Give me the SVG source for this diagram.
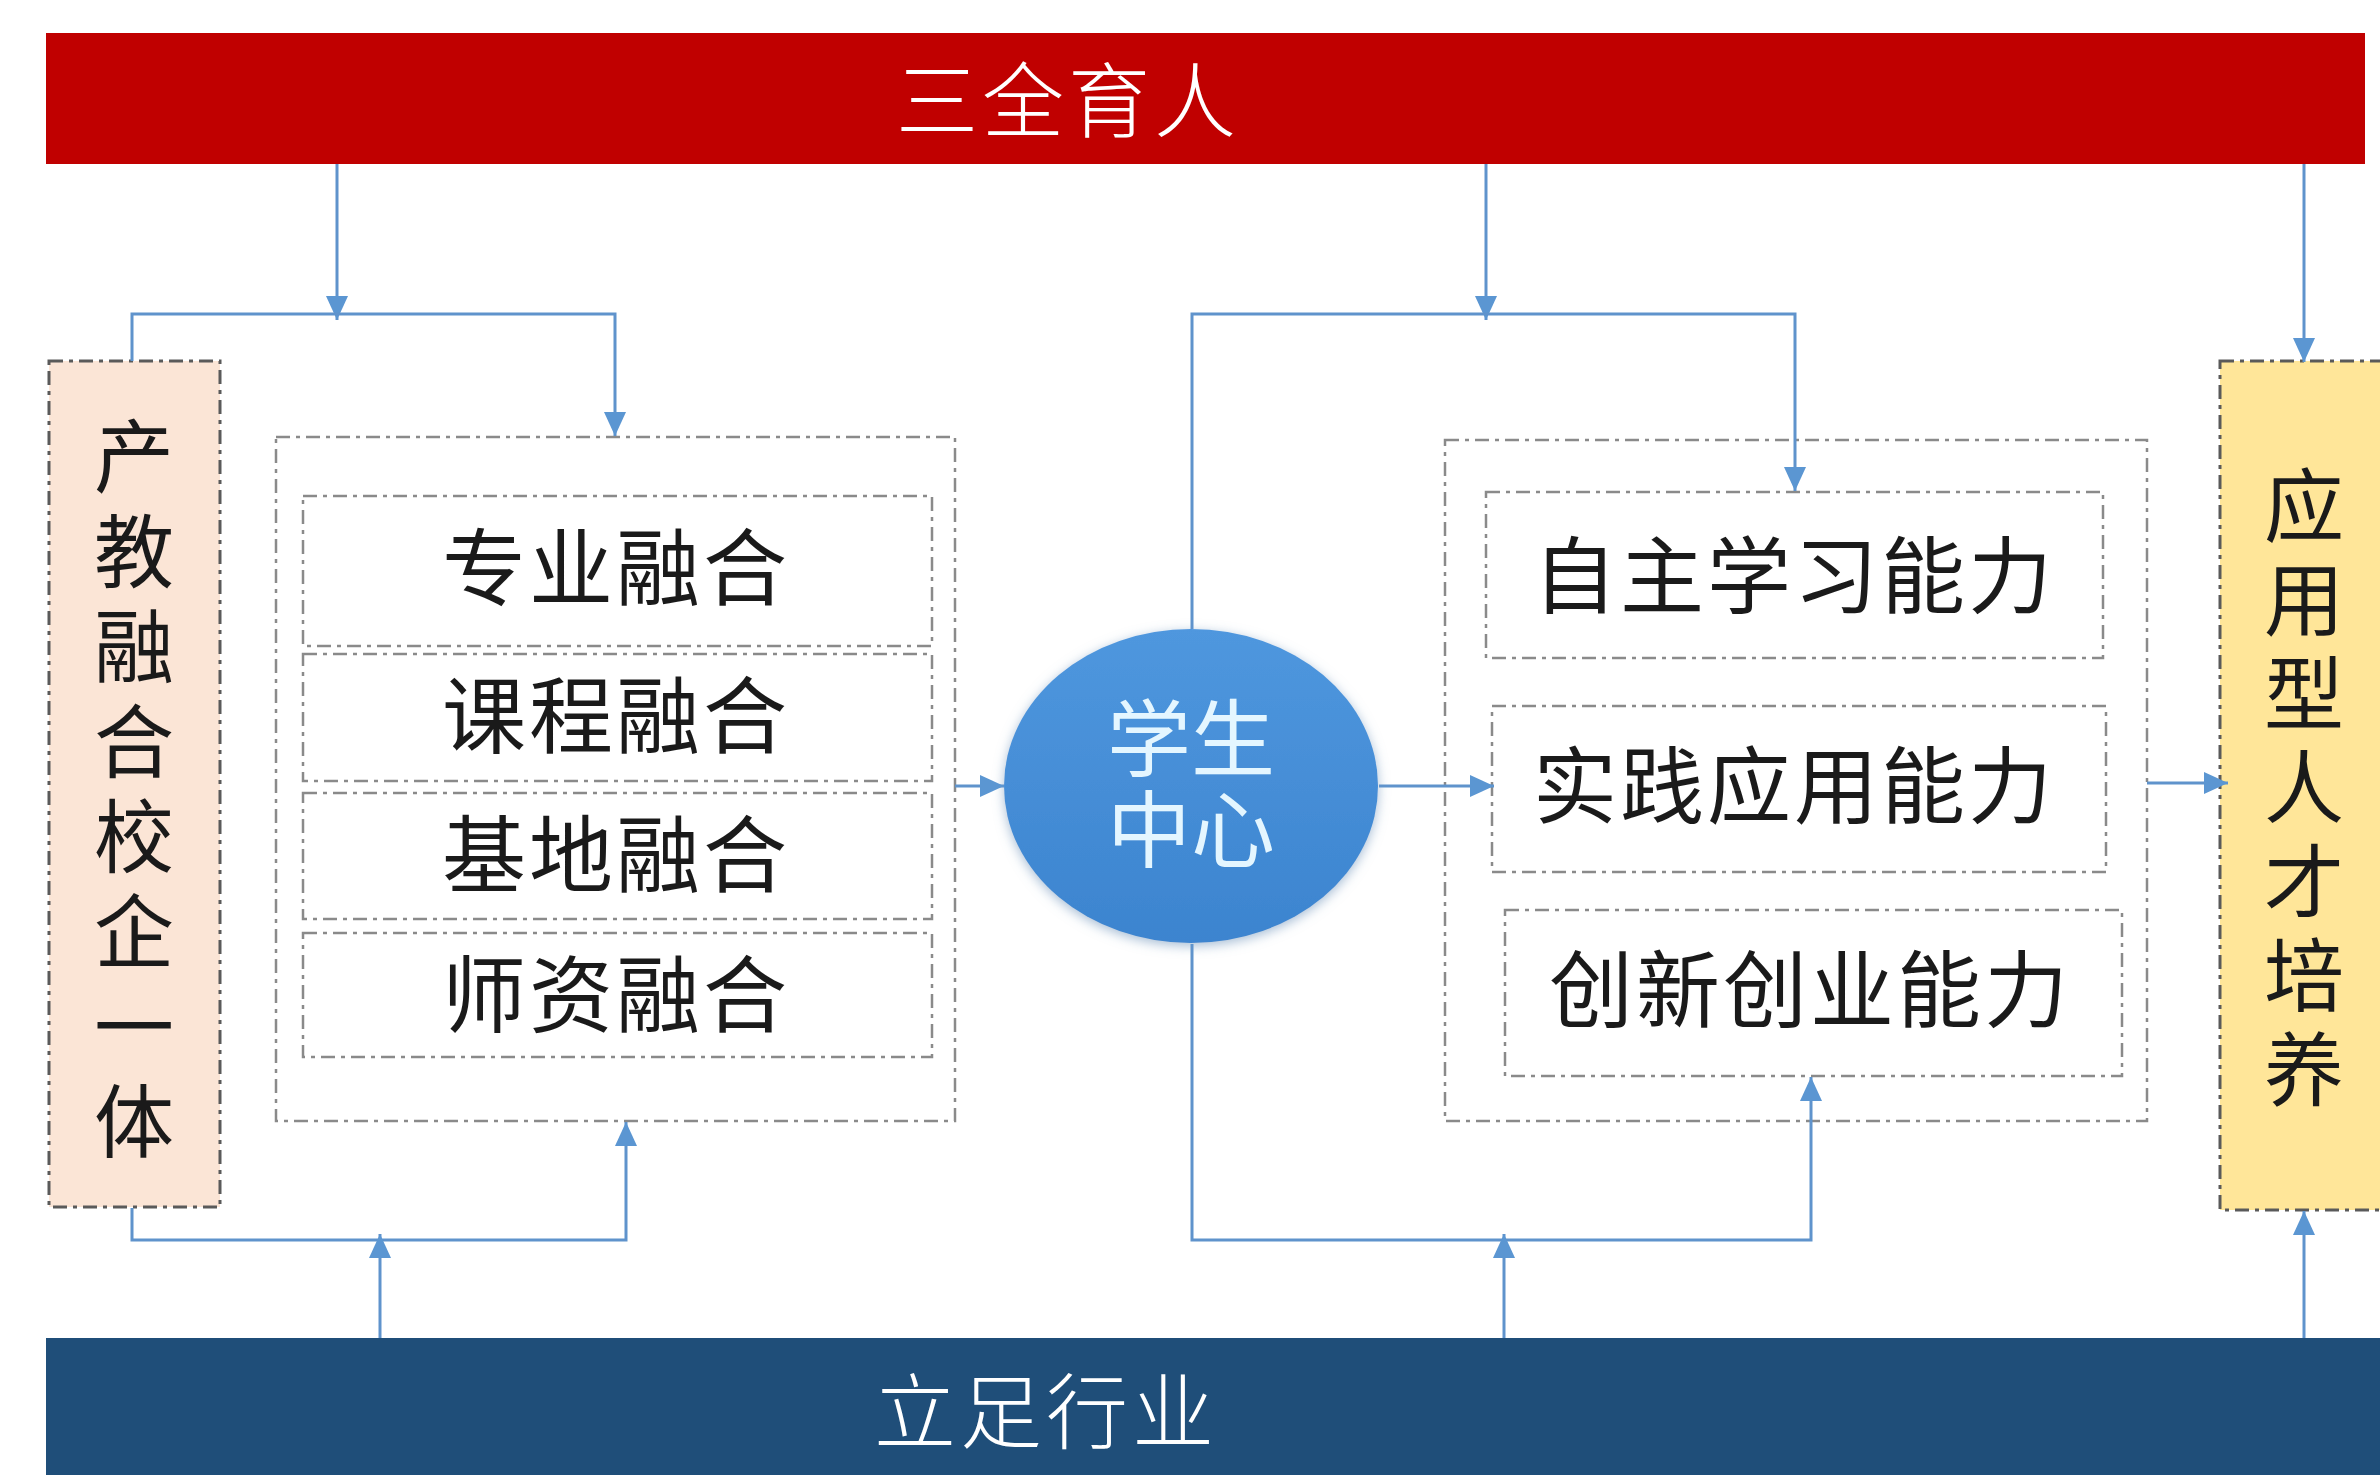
<svg xmlns="http://www.w3.org/2000/svg" width="2380" height="1475" viewBox="0 0 2380 1475">
<defs>
<style>
.t{font-family:"Noto Sans CJK SC","Noto Sans",sans-serif;}
.box{fill:#ffffff;stroke:#8a8a8a;stroke-width:2.5;stroke-dasharray:14 6 4 6;}
.side{stroke:#5a5a5a;stroke-width:3;stroke-dasharray:14 6 4 6;}
.lab{font-size:84px;fill:#1a1a1a;text-anchor:middle;letter-spacing:3px;}
.vlab{font-size:80px;fill:#1a1a1a;writing-mode:vertical-rl;text-orientation:upright;}
.ban{font-size:82px;fill:#ffffff;text-anchor:middle;letter-spacing:4px;font-weight:300;}
.con{fill:none;stroke:#5f93cc;stroke-width:3;marker-end:url(#ah);}
</style>
<marker id="ah" markerUnits="userSpaceOnUse" markerWidth="24" markerHeight="22" refX="24" refY="11" orient="auto" viewBox="0 0 24 22">
<path d="M0,0 L24,11 L0,22 z" fill="#5b96d2"/>
</marker>
<linearGradient id="eg" x1="0" y1="0" x2="0" y2="1">
<stop offset="0" stop-color="#4f97de"/>
<stop offset="1" stop-color="#3c84cf"/>
</linearGradient>
<filter id="glow" x="-20%" y="-20%" width="140%" height="140%">
<feGaussianBlur in="SourceAlpha" stdDeviation="6"/>
<feOffset dx="0" dy="3" result="b"/>
<feFlood flood-color="#6a90b8" flood-opacity="0.6"/>
<feComposite in2="b" operator="in"/>
<feMerge><feMergeNode/><feMergeNode in="SourceGraphic"/></feMerge>
</filter>
</defs>
<rect x="0" y="0" width="2380" height="1475" fill="#ffffff"/>

<g id="top-bar">
<rect x="46" y="33" width="2319" height="131" fill="#c00000"/>
<text class="t ban" x="1068" y="131">三全育人</text>
</g>

<g id="bottom-bar">
<rect x="46" y="1338" width="2334" height="137" fill="#1f4e79"/>
<text class="t ban" x="1046" y="1442">立足行业</text>
</g>

<g id="left-side">
<rect class="side" x="49" y="361" width="171" height="846" fill="#fbe5d6"/>
<text class="t vlab" x="134" y="416" letter-spacing="15">产教融合校企一体</text>
</g>

<g id="left-group">
<rect class="box" x="276" y="437" width="679" height="684"/>
</g>
<g id="zhuanye">
<rect class="box" x="303" y="496" width="629" height="150"/>
<text class="t lab" x="616" y="599">专业融合</text>
</g>
<g id="kecheng">
<rect class="box" x="303" y="654" width="629" height="127"/>
<text class="t lab" x="616" y="747">课程融合</text>
</g>
<g id="jidi">
<rect class="box" x="303" y="793" width="629" height="126"/>
<text class="t lab" x="616" y="886">基地融合</text>
</g>
<g id="shizi">
<rect class="box" x="303" y="933" width="629" height="124"/>
<text class="t lab" x="616" y="1026">师资融合</text>
</g>

<g id="student-center">
<ellipse cx="1191" cy="786" rx="187" ry="157" fill="url(#eg)" filter="url(#glow)"/>
<text class="t" font-size="84" fill="#e4f6ff" text-anchor="middle"><tspan x="1191" y="770">学生</tspan><tspan x="1191" y="861">中心</tspan></text>
</g>

<g id="right-group">
<rect class="box" x="1445" y="440" width="702" height="681"/>
</g>
<g id="zizhu">
<rect class="box" x="1486" y="492" width="617" height="166"/>
<text class="t lab" x="1794" y="607">自主学习能力</text>
</g>
<g id="shijian">
<rect class="box" x="1492" y="706" width="614" height="166"/>
<text class="t lab" x="1794" y="817">实践应用能力</text>
</g>
<g id="chuangxin">
<rect class="box" x="1505" y="910" width="617" height="166"/>
<text class="t lab" x="1810" y="1021">创新创业能力</text>
</g>

<g id="right-side">
<rect class="side" x="2220" y="361" width="175" height="849" fill="#ffe699"/>
<text class="t vlab" x="2304" y="465" letter-spacing="14">应用型人才培养</text>
</g>

<g id="connectors">
<path class="con" d="M337 164 V320"/>
<path class="con" d="M132 361 V314 H615 V436"/>
<path class="con" d="M132 1208 V1240 H626 V1122"/>
<path class="con" d="M380 1338 V1234"/>
<path class="con" d="M955 786 H1004"/>
<path class="con" d="M1486 164 V320"/>
<path class="con" d="M1192 629 V314 H1795 V491"/>
<path class="con" d="M1192 944 V1240 H1811 V1077"/>
<path class="con" d="M1504 1338 V1234"/>
<path class="con" d="M1379 786 H1494"/>
<path class="con" d="M2147 783 H2228"/>
<path class="con" d="M2304 164 V362"/>
<path class="con" d="M2304 1338 V1211"/>
</g>
</svg>
